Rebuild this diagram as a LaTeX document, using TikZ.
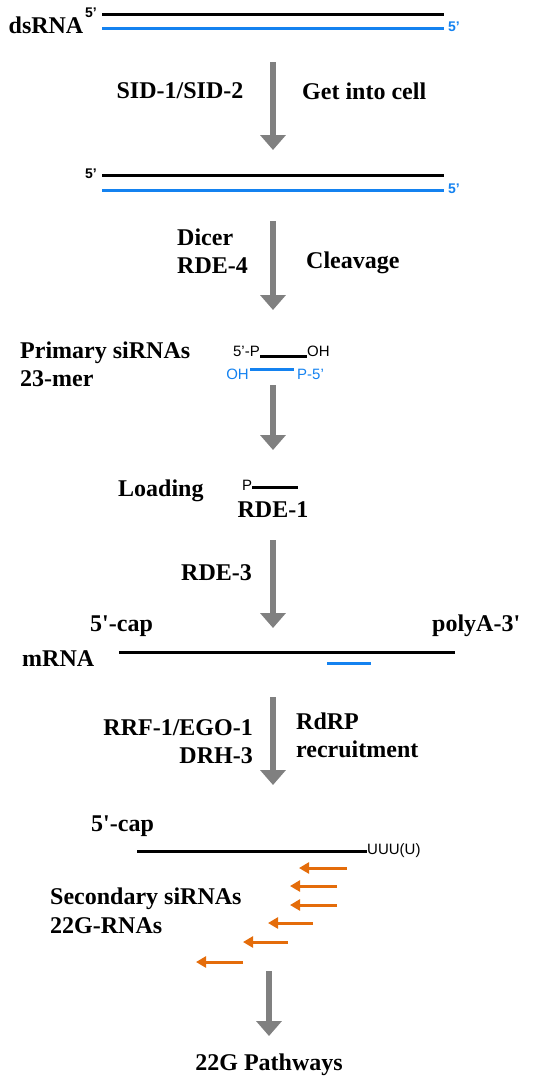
\documentclass[tikz,border=0pt]{standalone}
\usepackage{fontspec}
\setmainfont{Liberation Serif}
\setsansfont{Liberation Sans}
\usetikzlibrary{arrows.meta,positioning}

\definecolor{strandblue}{RGB}{20,130,240}
\definecolor{sirnaorange}{RGB}{228,108,10}
\definecolor{stepgray}{RGB}{128,128,128}

\tikzset{
  lbl/.style={font=\fontsize{24}{27}\selectfont\bfseries,inner sep=0pt,text height=0.7em,text depth=0.05em},
  tag/.style={font=\fontsize{15}{17}\selectfont\sffamily,inner sep=0pt,text height=0.72em,text depth=0pt},
  end5/.style={tag,font=\fontsize{14}{16}\selectfont\sffamily\bfseries},
  strand/.style={line width=3pt},
  flow/.style={draw=stepgray,line width=6pt,-{Triangle[length=15pt,width=25pt]}},
  back/.style={draw=sirnaorange,line width=3pt,-{Triangle[length=10pt,width=11pt]}}
}

\begin{document}
\begin{tikzpicture}[x=1pt,y=-1pt]
\useasboundingbox (0,0) rectangle (548,1082);
% dsRNA
\node[lbl] (ds) at (46,30) {dsRNA};
\coordinate (ta) at (102,14); \coordinate (tb) at (444,14);
\coordinate (ba) at (102,28); \coordinate (bb) at (444,28);
\draw[strand] (ta)--(tb);
\draw[strand,strandblue] (ba)--(bb);
\node[end5,left=5pt of ta] (ta5) {5'};
\node[end5,strandblue,right=4pt of bb] (bb5) {5'};
% into the cell
\coordinate (f1a) at (273,62); \coordinate (f1b) at (273,150);
\draw[flow] (f1a)--(f1b);
\node[lbl] (sid) at (180,95) {SID-1/SID-2};
\node[lbl,anchor=west] (gic) at (302,96) {Get into cell};
\coordinate (ua) at (102,175); \coordinate (ub) at (444,175);
\coordinate (va) at (102,190); \coordinate (vb) at (444,190);
\draw[strand] (ua)--(ub);
\draw[strand,strandblue] (va)--(vb);
\node[end5,left=5pt of ua] (ua5) {5'};
\node[end5,strandblue,right=4pt of vb] (vb5) {5'};
% cleavage
\coordinate (f2a) at (273,221); \coordinate (f2b) at (273,310);
\draw[flow] (f2a)--(f2b);
\node[lbl,anchor=west] (dcr) at (177,242) {Dicer};
\node[lbl,anchor=west] (rde4) at (177,270) {RDE-4};
\node[lbl,anchor=west] (clv) at (306,265) {Cleavage};
% primary siRNAs
\node[lbl,anchor=west] (pri) at (20,355) {Primary siRNAs};
\node[lbl,anchor=west] (mer) at (20,383) {23-mer};
\node[tag,anchor=east] (fp) at (260,353) {5'-P};
\node[tag,anchor=west] (oh) at (307,353) {OH};
\draw[strand] ([yshift=-3pt]fp.east)--([yshift=-3pt]oh.west);
\node[tag,strandblue,anchor=east] (boh) at (249,376) {OH};
\node[tag,strandblue,anchor=west] (bp) at (297,376) {P-5'};
\draw[strand,strandblue] ([xshift=1pt,yshift=7pt]boh.east)--([xshift=-3pt,yshift=7pt]bp.west);
% loading
\coordinate (f3a) at (273,385); \coordinate (f3b) at (273,450);
\draw[flow] (f3a)--(f3b);
\node[lbl,anchor=west] (ld) at (118,493) {Loading};
\node[tag] (lp) at (247,487) {P};
\coordinate (lpe) at (298,487);
\draw[strand] (lp.east)--(lpe);
\node[lbl] (rde1) at (273,514) {RDE-1};
% target mRNA
\coordinate (f4a) at (273,540); \coordinate (f4b) at (273,628);
\draw[flow] (f4a)--(f4b);
\node[lbl,anchor=west] (rde3) at (181,577) {RDE-3};
\node[lbl,anchor=west] (cap) at (90,628) {5\textquotesingle-cap};
\node[lbl,anchor=west] (pa) at (432,628) {polyA-3\textquotesingle};
\node[lbl,anchor=west] (mrna) at (22,663) {mRNA};
\coordinate (ma) at (119,652); \coordinate (mb) at (455,652);
\draw[strand] (ma)--(mb);
\coordinate (ga) at (327,663); \coordinate (gb) at (371,663);
\draw[strand,strandblue] (ga)--(gb);
% RdRP
\coordinate (f5a) at (273,697); \coordinate (f5b) at (273,785);
\draw[flow] (f5a)--(f5b);
\node[lbl,anchor=east] (rrf) at (253,732) {RRF-1/EGO-1};
\node[lbl,anchor=east] (drh) at (253,760) {DRH-3};
\node[lbl,anchor=west] (rdrp) at (296,726) {RdRP};
\node[lbl,anchor=west] (rec) at (296,754) {recruitment};
% secondary siRNAs
\node[lbl,anchor=west] (cap2) at (91,828) {5\textquotesingle-cap};
\node[tag,anchor=west] (uuu) at (367,851) {UUU(U)};
\coordinate (na) at (137,851);
\draw[strand] (na)--(uuu.west);
\foreach \y/\a/\b in {868/299/347,886/290/337,905/290/337,923/268/313,942/243/288,962/196/243}
  \draw[back] (\b,\y)--(\a,\y);
\node[lbl,anchor=west] (sec) at (50,901) {Secondary siRNAs};
\node[lbl,anchor=west] (g22) at (50,930) {22G-RNAs};
\coordinate (f6a) at (269,971); \coordinate (f6b) at (269,1036);
\draw[flow] (f6a)--(f6b);
\node[lbl] (pw) at (269,1067) {22G Pathways};
\end{tikzpicture}
\end{document}
